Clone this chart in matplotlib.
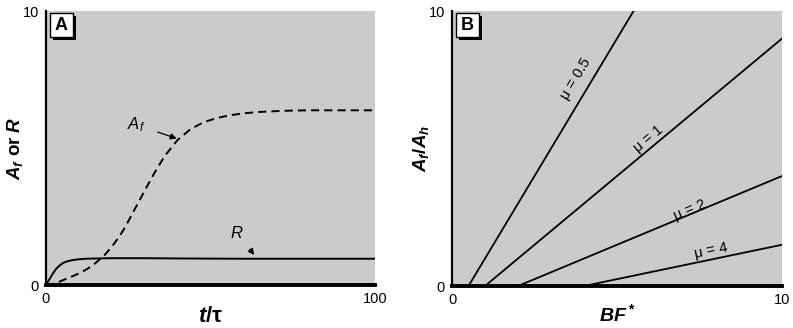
import numpy as np
import matplotlib
matplotlib.use('Agg')
import matplotlib.pyplot as plt
from matplotlib.patches import Rectangle

plt.rcParams['font.family'] = ['Liberation Sans', 'DejaVu Sans']
plt.rcParams['mathtext.fontset'] = 'custom'
plt.rcParams['mathtext.rm'] = 'Liberation Sans:bold'
plt.rcParams['mathtext.it'] = 'Liberation Sans:italic:bold'
plt.rcParams['mathtext.bf'] = 'Liberation Sans:bold'
plt.rcParams['mathtext.sf'] = 'Liberation Sans:italic'

# panel A
t_R = [0, 1, 2, 3, 4, 5, 6, 8, 10, 12, 15, 20, 30, 40, 60, 80, 100]
R = [0, 0.2, 0.4, 0.58, 0.7, 0.79, 0.85, 0.91, 0.94, 0.96, 0.97, 0.98, 0.98, 0.97, 0.96, 0.96, 0.96]
t_Af = [0, 2, 4, 6, 8, 10, 12, 14, 16, 18, 20, 22, 24, 26, 28, 30, 33, 36, 40, 44, 48, 52, 56, 60, 65, 70, 75, 80, 85, 90, 95, 100]
Af = [0, 0.04, 0.12, 0.22, 0.32, 0.42, 0.55, 0.7, 0.9, 1.12, 1.4, 1.72, 2.1, 2.55, 3.0, 3.45, 4.1, 4.7, 5.3, 5.7, 5.95, 6.1, 6.2, 6.27, 6.32, 6.35, 6.37, 6.38, 6.38, 6.38, 6.38, 6.38]

# panel B line endpoints
mu_labels = ['0.5', '1', '2', '4']
bf_start = [0.5, 1, 2, 4]
bf_end = [5.5, 10, 10, 10]
ratio_end = [10, 9, 4, 1.5]
lab_pos = [(3.75, 7.55), (5.95, 5.35), (7.2, 2.75), (7.85, 1.3)]

bg = '#cbcbcb'

fig = plt.figure(figsize=(7.93, 3.28), dpi=100)
axA = fig.add_axes([0.058, 0.131, 0.415, 0.835])
axB = fig.add_axes([0.570, 0.128, 0.416, 0.838])


def style(ax, xmax, ymax, xlab, ylab, letter, xsize, xpad):
    ax.set_facecolor(bg)
    ax.set_xlim(0, xmax)
    ax.set_ylim(0, ymax)
    ax.set_xticks([0, xmax])
    ax.set_yticks([0, ymax])
    ax.tick_params(length=0, labelsize=10.5, pad=5)
    ax.spines['top'].set_visible(False)
    ax.spines['right'].set_visible(False)
    ax.spines['left'].set_linewidth(1.6)
    ax.spines['bottom'].set_linewidth(2.8)
    ax.set_xlabel(xlab, fontsize=xsize, fontweight='bold', labelpad=xpad)
    ax.set_ylabel(ylab, fontsize=13.5, fontweight='bold', labelpad=-2)
    # boxed panel letter with shadow
    ax.add_patch(Rectangle((0.021, 0.894), 0.07, 0.088, transform=ax.transAxes,
                           facecolor='black', edgecolor='none', zorder=5))
    ax.add_patch(Rectangle((0.012, 0.905), 0.07, 0.088, transform=ax.transAxes,
                           facecolor='white', edgecolor='black', lw=1.0, zorder=6))
    ax.text(0.047, 0.949, letter, transform=ax.transAxes, ha='center', va='center',
            fontsize=13, fontweight='bold', zorder=7)


style(axA, 100, 10, r'$t$/τ', r'$A_f$ or $R$', 'A', 16, 0)
axA.plot(t_R, R, color='black', lw=1.4, solid_capstyle='butt')
axA.plot(t_Af, Af, color='black', lw=1.4, dashes=(4.2, 2.6))
axA.annotate(r'$\mathsf{A_f}$', xy=(39.7, 5.35), xytext=(27.5, 5.85), fontsize=12,
             ha='center', va='center', color='black',
             arrowprops=dict(arrowstyle='-|>', color='black', lw=0.9,
                             shrinkA=7, shrinkB=0, mutation_scale=9))
axA.annotate(r'$\mathsf{R}$', xy=(63.3, 1.1), xytext=(58, 1.9), fontsize=12,
             ha='center', va='center',
             arrowprops=dict(arrowstyle='-|>', color='black', lw=0.9,
                             shrinkA=5, shrinkB=0, mutation_scale=9))

style(axB, 10, 10, r'$BF^*$', r'$A_f/A_h$', 'B', 14, -3)
for m, x0, x1, y1, pos in zip(mu_labels, bf_start, bf_end, ratio_end, lab_pos):
    axB.plot([x0, x1], [0, y1], color='black', lw=1.3)
    ang = np.degrees(np.arctan2(y1, x1 - x0))
    axB.text(pos[0], pos[1], 'μ = ' + m, fontsize=10.5, ha='center', va='center',
             rotation=ang, transform_rotates_text=True, rotation_mode='anchor')

fig.savefig('out.png', dpi=100)
